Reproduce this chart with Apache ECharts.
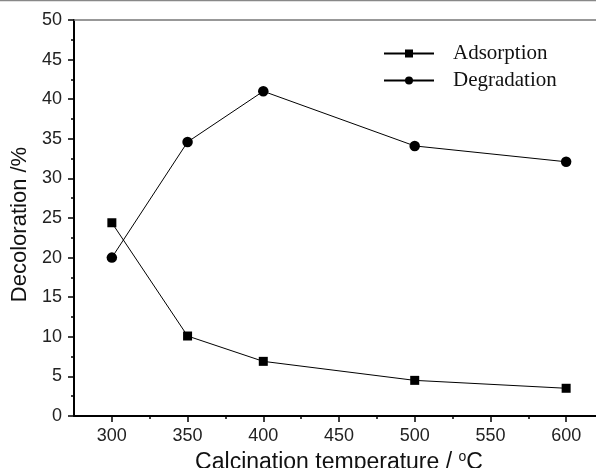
<!DOCTYPE html>
<html>
<head>
<meta charset="utf-8">
<script src="https://cdn.jsdelivr.net/npm/echarts@6/dist/echarts.min.js"></script>
<style>
  html, body { margin: 0; padding: 0; background: #fff; }
  #chart { width: 596px; height: 468px; }
</style>
</head>
<body>
<div id="chart"></div>
<script>
// data
const temps = [300, 350, 400, 500, 600];
const adsorption = [24.4, 10.1, 6.9, 4.5, 3.5];
const degradation = [20.0, 34.6, 41.0, 34.1, 32.1];
const xMajorTicks = [300, 350, 400, 450, 500, 550, 600];
const xMinorTicks = [325, 375, 425, 475, 525, 575];

const chart = echarts.init(document.getElementById('chart'));

function pairs(xs, ys) {
  return xs.map((x, i) => [x, ys[i]]);
}

const option = {
  animation: false,
  grid: { left: 74, right: -8, top: 20, bottom: 52, outerBoundsMode: 'none', containLabel: false },
  legend: {
    left: 383,
    top: 43,
    padding: 0,
    orient: 'vertical',
    itemWidth: 50,
    itemHeight: 10,
    itemGap: 6,
    textStyle: { fontFamily: 'Liberation Serif', fontSize: 21, color: '#111', padding: [0, 0, 0, 14] },
    data: ['Adsorption', 'Degradation']
  },
  xAxis: [
    {
      type: 'value', min: 275, max: 625, interval: 25,
      name: 'Calcination temperature / {s|o}C',
      nameLocation: 'middle', nameGap: 28,
      nameTextStyle: {
        fontFamily: 'Liberation Sans', fontSize: 23, color: '#111',
        rich: { s: { fontSize: 14, verticalAlign: 'top', padding: [0, 0, 12, 0] } }
      },
      axisLine: { onZero: false, lineStyle: { color: '#000', width: 2 } },
      axisTick: { customValues: xMajorTicks, length: 6, lineStyle: { color: '#000', width: 1.5 } },
      axisLabel: { customValues: xMajorTicks, margin: 11, fontFamily: 'Liberation Sans', fontSize: 18, color: '#222' },
      splitLine: { show: false }
    },
    {
      type: 'value', min: 275, max: 625, position: 'bottom',
      axisLine: { show: false },
      axisTick: { customValues: xMinorTicks, length: 3, lineStyle: { color: '#000', width: 1.5 } },
      axisLabel: { show: false },
      splitLine: { show: false }
    },
    {
      type: 'value', min: 275, max: 625, position: 'top',
      axisLine: { show: true, lineStyle: { color: '#777', width: 1.5 } },
      axisTick: { show: false },
      axisLabel: { show: false },
      splitLine: { show: false }
    }
  ],
  yAxis: {
    type: 'value', min: 0, max: 50, interval: 5,
    name: 'Decoloration /%',
    nameLocation: 'middle', nameGap: 41,
    nameTextStyle: { fontFamily: 'Liberation Sans', fontSize: 22, color: '#111', padding: [0, 13, 0, 0] },
    axisLine: { show: true, lineStyle: { color: '#000', width: 2 } },
    axisTick: { show: true, length: 6, lineStyle: { color: '#000', width: 1.5 } },
    minorTick: { show: true, splitNumber: 2, length: 3, lineStyle: { color: '#000', width: 1.5 } },
    axisLabel: { margin: 12, fontFamily: 'Liberation Sans', fontSize: 18, color: '#222' },
    splitLine: { show: false }
  },
  graphic: [
    { type: 'line', shape: { x1: 0, y1: 0.5, x2: 596, y2: 0.5 }, style: { stroke: '#888', lineWidth: 1.5 } }
  ],
  series: [
    {
      name: 'Adsorption', type: 'line', xAxisIndex: 0,
      data: pairs(temps, adsorption),
      symbol: 'rect', symbolSize: 9,
      itemStyle: { color: '#000' },
      lineStyle: { color: '#000', width: 1 }
    },
    {
      name: 'Degradation', type: 'line', xAxisIndex: 0,
      data: pairs(temps, degradation),
      symbol: 'circle', symbolSize: 10.5,
      itemStyle: { color: '#000' },
      lineStyle: { color: '#000', width: 1 }
    }
  ]
};

chart.setOption(option);
</script>
</body>
</html>
